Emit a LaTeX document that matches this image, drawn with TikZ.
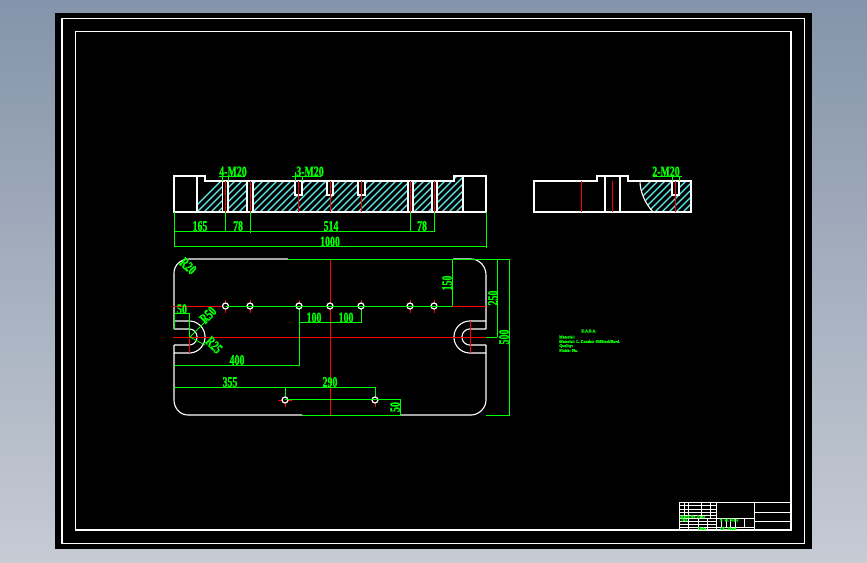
\documentclass[tikz,border=0pt]{standalone}
\usepackage{graphicx}
\usepackage{fontspec}
\setmainfont{Liberation Serif}
\newfontfamily\cadfont[BoldFeatures={FakeBold=1.5}]{Liberation Serif}
\definecolor{cadgreen}{RGB}{0,255,0}
\definecolor{cadred}{RGB}{255,0,0}
\definecolor{cadcyan}{RGB}{90,240,240}
\newcommand{\cad}[1]{\scalebox{0.68}[1]{\fontsize{14.5}{14.5}\selectfont\cadfont\bfseries #1}}
\newcommand{\tinycad}[1]{\scalebox{0.92}[1]{\fontsize{4.2}{4.2}\selectfont\cadfont\bfseries #1}}
\tikzset{
  outline/.style={draw=white,line width=1.1pt},
  dimline/.style={draw=cadgreen,line width=1pt},
  axisline/.style={draw=cadred,line width=1pt},
  hatchline/.style={draw=cadcyan,line width=1.1pt},
  dimtext/.style={text=cadgreen,inner sep=0pt},
  notetext/.style={text=cadgreen,inner sep=0pt,anchor=west},
  holering/.style={draw=white,line width=1.2pt,fill=black},
  cutout/.style={fill=black},
}
\begin{document}
\begin{tikzpicture}[x=1pt,y=-1pt]
\useasboundingbox (0,0) rectangle (867,562);
\shade[top color={rgb,255:red,132;green,148;blue,170},bottom color={rgb,255:red,198;green,203;blue,212}] (0,0) rectangle (867,562);
\fill[black] (55,13) rectangle (812,549);
\draw[outline] (62,18.5) rectangle (804.5,543.5);
\draw[outline] (75.5,31.5) rectangle (791,530);

% --- front section: hatching
\begin{scope}
\clip (197,176) -- (205,176) -- (205,181) -- (454,181) -- (454,176) -- (463,176) -- (463,212) -- (197,212) -- cycle;
\foreach \k in {0,...,44}{
  \draw[hatchline] ({190+7*\k},212) -- ({226+7*\k},176);
}
\end{scope}
\foreach \a/\b in {222.5/228,247/253,408/413,432/437}{
  \fill[cutout] (\a,181) rectangle (\b,212);
  \draw[outline] (\a,181) -- (\a,212) (\b,181) -- (\b,212);
}
\foreach \a/\b in {295/302,327/333,358/365}{
  \fill[cutout] (\a,181) rectangle (\b,195);
  \draw[outline] (\a,181) -- (\a,195) -- (\b,195) -- (\b,181);
}
\draw[outline] (174,212) -- (174,176) -- (205,176) -- (205,181) -- (454,181) -- (454,176) -- (486,176) -- (486,212) -- cycle;
\draw[outline] (197,176) -- (197,212) (463,176) -- (463,212);
\foreach \x/\t in {225.5/181,250/181,298.7/195,330/195,361/195,410.5/181,434/181}{
  \draw[axisline] (\x,181) -- (\x,212);
}
% front dimensions
\draw[dimline] (174,212) -- (174,247) (225,212) -- (225,231) (250,212) -- (250,233) (410,212) -- (410,231) (434,212) -- (434,232) (486,212) -- (486,248);
\draw[dimline] (174,231) -- (434,231) (174,246.5) -- (486,246.5);
\draw[dimline] (219,176) -- (245,176) (222.5,176) -- (222.5,181) (228,176) -- (228,181);
\draw[dimline] (292,176) -- (321,176) (295,172) -- (295,181) (302,176) -- (302,181);
\node[dimtext] (t1) at (233,171.5) {\cad{4-M20}};
\node[dimtext] (t2) at (310,171.5) {\cad{3-M20}};
\node[dimtext] (t3) at (200,226) {\cad{165}};
\node[dimtext] (t4) at (238,226) {\cad{78}};
\node[dimtext] (t5) at (331,226) {\cad{514}};
\node[dimtext] (t6) at (422,226) {\cad{78}};
\node[dimtext] (t7) at (330,241.5) {\cad{1000}};

% --- side section
\begin{scope}
\clip (640,181) .. controls (640,192) and (645,203) .. (653,212) -- (691,212) -- (691,181) -- cycle;
\foreach \k in {0,...,14}{
  \draw[hatchline] ({620+7*\k},212) -- ({651+7*\k},181);
}
\end{scope}
\fill[cutout] (672,181) rectangle (679,195);
\draw[outline] (672,181) -- (672,195) -- (679,195) -- (679,181);
\draw[outline] (534,212) -- (534,181) -- (597,181) -- (597,176) -- (628,176) -- (628,181) -- (691,181) -- (691,212) -- cycle;
\draw[outline] (605,176) -- (605,212) (620,176) -- (620,212);
\draw[outline] (640,181) .. controls (640,192) and (645,203) .. (653,212);
\foreach \x in {581,612,675}{
  \draw[axisline] (\x,181) -- (\x,212);
}
\draw[dimline] (653,176) -- (682,176) (672,176) -- (672,181) (679,176) -- (679,181);
\node[dimtext] (t8) at (666,171.5) {\cad{2-M20}};

% --- plan view: outline
\draw[outline] (174,329) -- (174,273) .. controls (174,265) and (181,259) .. (189,259) -- (288,259);
\draw[outline] (453,259) -- (471,259) .. controls (479,259) and (486,266) .. (486,275) -- (486,329);
\draw[outline] (174,345) -- (174,400) .. controls (174,408) and (180,415) .. (188,415) -- (302,415);
\draw[outline] (400,415) -- (471,415) .. controls (479,415) and (486,408) .. (486,400) -- (486,345);
\draw[outline] (174,321) -- (189,321) plot[domain=-90:90,samples=41] ({189+16*cos(\x)},{337+16*sin(\x)}) -- (174,353);
\draw[outline] (174,329) -- (189,329) plot[domain=-90:90,samples=41] ({189+8*cos(\x)},{337+8*sin(\x)}) -- (174,345);
\draw[outline] (486,321) -- (470,321) plot[domain=270:90,samples=41] ({470+16*cos(\x)},{337+16*sin(\x)}) -- (486,353);
\draw[outline] (486,329) -- (470,329) plot[domain=270:90,samples=41] ({470+8*cos(\x)},{337+8*sin(\x)}) -- (486,345);

% plan view: centre lines
\draw[axisline] (173,306) -- (226,306) (452,306) -- (486,306);
\draw[axisline] (173,337) -- (486,337);
\draw[axisline] (330,259) -- (330,415);
\draw[axisline] (189,337) -- (189,353) (470,321) -- (470,353);
\foreach \x in {225.5,250,299,361,410,434}{
  \draw[axisline] (\x,300) -- (\x,313);
}
\draw[axisline] (278,400) -- (292,400) (285,400) -- (285,407) (375,400) -- (375,407);

% plan view: dimensions
\draw[dimline] (226,306) -- (452,306);
\draw[dimline] (288,259) -- (510,259) (452,259) -- (452,306);
\draw[dimline] (486,337) -- (497,337) (497,259) -- (497,337) (509.5,259) -- (509.5,415);
\draw[dimline] (174,329) -- (174,313) -- (189,313) -- (189,337);
\draw[dimline] (299,306) -- (299,365) -- (174,365);
\draw[dimline] (299,322) -- (361,322) (361,306) -- (361,323);
\draw[dimline] (174,387) -- (375,387) (285,387) -- (285,400) (375,387) -- (375,400);
\draw[dimline] (285,399.5) -- (400,399.5) -- (400,415) -- (302,415);
\draw[dimline] (486,415) -- (510,415);
\draw[dimline,line width=0.8pt] (190,337) -- (207,320) (190,337) -- (205,345);
\foreach \n/\x/\y in {h1/225.5/306,h2/250/306,h3/299/306,h4/330/306,h5/361/306,h6/410/306,h7/434/306,h8/285/400,h9/375/400}{
  \draw[holering] (\x,\y) circle[radius=3];
}
\draw[dimline] (226,306) -- (452,306) (285,399.5) -- (400,399.5);

\node[dimtext,rotate=-42] (t9) at (188,266) {\cad{R20}};
\node[dimtext] (t10) at (182,309) {\cad{50}};
\node[dimtext,rotate=45] (t11) at (208,315) {\cad{R50}};
\node[dimtext,rotate=-45] (t12) at (214,345) {\cad{R25}};
\node[dimtext] (t13) at (237,360) {\cad{400}};
\node[dimtext] (t14) at (314,317.5) {\cad{100}};
\node[dimtext] (t15) at (346,317.5) {\cad{100}};
\node[dimtext,rotate=90] (t16) at (447,283) {\cad{150}};
\node[dimtext,rotate=90] (t17) at (493,298) {\cad{250}};
\node[dimtext,rotate=90] (t18) at (504,337) {\cad{500}};
\node[dimtext] (t19) at (230,382) {\cad{355}};
\node[dimtext] (t20) at (330,382) {\cad{290}};
\node[dimtext,rotate=90] (t21) at (395,407) {\cad{50}};

% notes
\node[notetext] (n0) at (581,331) {\tinycad{K.A.B.A.}};
\node[notetext] (n1) at (559,337) {\tinycad{Material:}};
\node[notetext] (n2) at (559,341.5) {\tinycad{Material: L. Consist: 45\#Steel/Hard.}};
\node[notetext] (n3) at (559,346) {\tinycad{Quality:}};
\node[notetext] (n4) at (559,350.5) {\tinycad{Finish: No.}};

% title block
\draw[outline,line width=0.9pt] (679,502) rectangle (791,530);
\draw[outline,line width=0.9pt] (716.7,502) -- (716.7,530) (754,502) -- (754,530) (754,512) -- (791,512) (754,521) -- (791,521) (717,518) -- (754,518) (717,527) -- (754,527);
\foreach \y in {505.5,509,512.5,515.5,518,521.5,524.5,527.5}{
  \draw[outline,line width=0.7pt] (679,\y) -- (716.7,\y);
}
\foreach \x in {684,688.5,701.5,710.5}{
  \draw[outline,line width=0.7pt] (\x,502) -- (\x,518);
}
\foreach \x in {688.5,698.5,707.5}{
  \draw[outline,line width=0.7pt] (\x,518) -- (\x,530);
}
\foreach \x in {721,726,730,735,744}{
  \draw[outline,line width=0.7pt] (\x,518) -- (\x,527);
}
\node[notetext] (b1) at (680,516.7) {\tinycad{Mark No.\,Zone}};
\node[notetext] (b2) at (681,520) {\tinycad{Des}};
\node[notetext] (b3) at (720,520) {\tinycad{S.\ W.\ Scale}};
\node[notetext] (b4) at (698,528.5) {\tinycad{Date}};
\node[notetext] (b5) at (720,528.5) {\tinycad{Of\ \ \ Sheet}};
\end{tikzpicture}
\end{document}
